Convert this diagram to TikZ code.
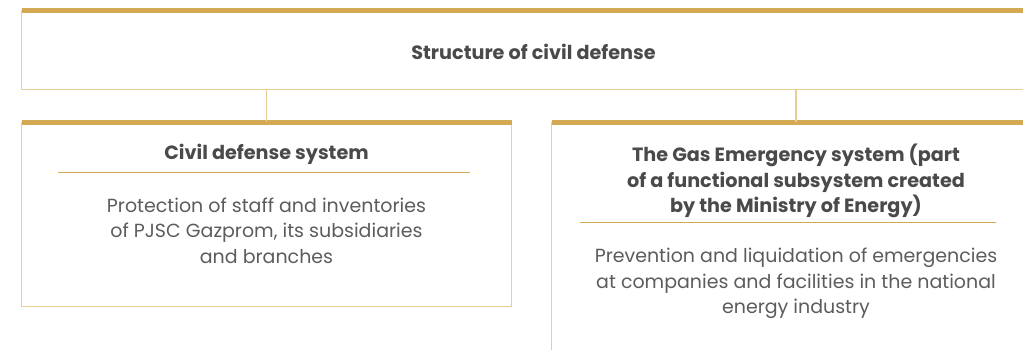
\documentclass[tikz,border=0pt]{standalone}
\usepackage{fontspec}
\setmainfont{Poppins}
\usetikzlibrary{positioning}
\definecolor{gold}{HTML}{D4A954}
\definecolor{lightgold}{HTML}{E8CD95}
\definecolor{darktext}{HTML}{4A4A4A}
\definecolor{bodytext}{HTML}{5C5C5C}

\begin{document}
\begin{tikzpicture}[x=1pt, y=-1pt,
		frame/.style = {draw=lightgold, line width=1.6pt, inner sep=0pt, outer sep=0pt, anchor=north west},
		bar/.style = {gold, line width=5pt},
		rule/.style = {gold, line width=0.8pt},
		heading/.style = {font=\bfseries\fontsize{19.2}{25.5}\selectfont, text=darktext, align=center},
		body/.style = {font=\fontsize{19}{25.5}\selectfont, text=bodytext, align=center}]
		\useasboundingbox (0,0) rectangle (1023,350);
		\clip (0,0) rectangle (1023,350);
		% boxes
		\node[frame, minimum width=1020pt, minimum height=79pt] (top) at (21.5,10.5) {};
		\node[frame, minimum width=490pt, minimum height=184pt] (left) at (21.5,122.5) {};
		\node[frame, minimum width=489pt, minimum height=260pt] (right) at (551.5,122.5) {};
		\draw[bar] (top.north west) -- (top.north east);
		\draw[bar] (left.north west) -- (left.north east);
		\draw[bar] (right.north west) -- (right.north east);
		% links
		\draw[lightgold, line width=1.6pt] (top.south -| left.north) -- (left.north);
		\draw[lightgold, line width=1.6pt] (top.south -| right.north) -- (right.north);
		% texts
		\node[heading] (toptitle) at (533.5,51.5) {Structure of civil defense};
		\node[heading] (lefttitle) at (266.5,154.5) {Civil defense system};
		\node[body] (lefttext) at (266.5,230.5) {Protection of staff and inventories\\of PJSC Gazprom, its subsidiaries\\and branches};
		\node[heading] (righttitle) at (796,181.3) {The Gas Emergency system (part\\of a functional subsystem created\\by the Ministry of Energy)};
		\node[body] (righttext) at (796,283.5) {Prevention and liquidation of emergencies\\at companies and facilities in the national\\energy industry};
		\draw[rule] (58,172.7) -- (470,172.7);
		\draw[rule] (580,222.3) -- (996,222.3);
\end{tikzpicture}
\end{document}
